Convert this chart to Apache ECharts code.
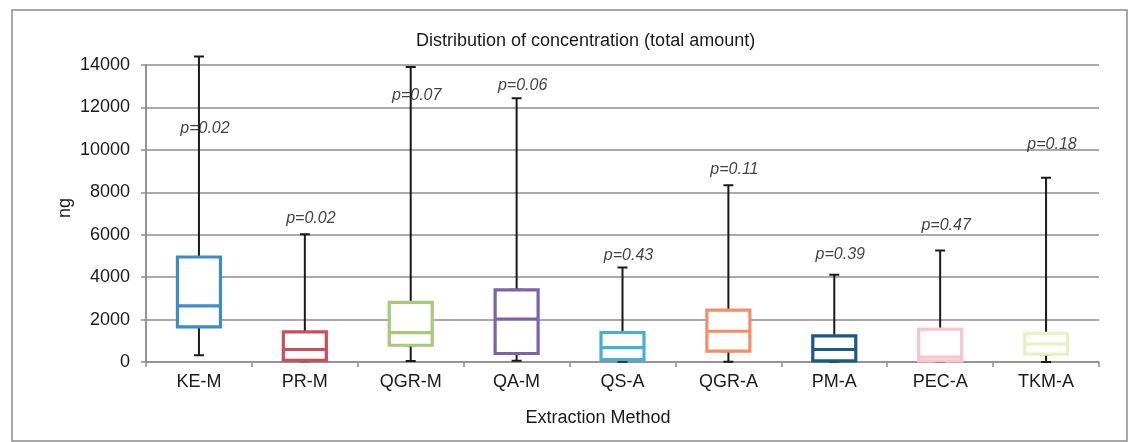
<!DOCTYPE html>
<html><head><meta charset="utf-8">
<script src="https://cdn.jsdelivr.net/npm/echarts@6/dist/echarts.min.js"></script>
<style>html,body{margin:0;padding:0;background:#fff}#c{width:1133px;height:442px}</style>
</head><body><div id="c"></div>
<script>
const categories = ['KE-M','PR-M','QGR-M','QA-M','QS-A','QGR-A','PM-A','PEC-A','TKM-A'];
const minValues    = [320,   30,   50,    60,    10,   10,   10,   10,   0];
const q1Values     = [1660,  80,   790,   400,   110,  510,  50,   50,   370];
const medianValues = [2650,  590,  1380,  2020,  680,  1450, 590,  230,  850];
const q3Values     = [4950,  1420, 2810,  3400,  1390, 2450, 1230, 1550, 1350];
const maxValues    = [14400, 6020, 13900, 12430, 4460, 8330, 4110, 5260, 8690];
const pLabels  = ['p=0.02','p=0.02','p=0.07','p=0.06','p=0.43','p=0.11','p=0.39','p=0.47','p=0.18'];
const pLabelAt = [11000, 6750, 12550, 13050, 5000, 9050, 5050, 6450, 10250];
const yMin = 0, yMax = 14000, yInterval = 2000;
const boxColors = ['#3d8cc8','#c8505a','#a6c97c','#7b65a8','#4aaed2','#f0906a','#1b5a87','#f9c5ca','#eaf2c4'];

const FONT = 'Liberation Sans';
const GRID_COLOR = '#8e8e8e';

const whiskerData = categories.map((c, i) => [minValues[i], q1Values[i], q1Values[i], q3Values[i], maxValues[i]]);
const boxData = categories.map((c, i) => ({
  value: [q1Values[i], q1Values[i], medianValues[i], q3Values[i], q3Values[i]],
  itemStyle: { borderColor: boxColors[i], color: '#ffffff', borderWidth: 3.2 }
}));
const labelData = categories.map((c, i) => ({ value: [c, pLabelAt[i]], label: { formatter: pLabels[i] } }));

const chart = echarts.init(document.getElementById('c'), null, { renderer: 'canvas' });
chart.setOption({
  animation: false,
  backgroundColor: '#ffffff',
  title: {
    text: 'Distribution of concentration (total amount)',
    left: 416, top: 32, padding: 0,
    textStyle: { fontFamily: FONT, fontSize: 18, fontWeight: 'normal', color: '#1a1a1a' }
  },
  grid: { left: 146, right: 34, top: 65, bottom: 80, containLabel: false },
  xAxis: [{
    type: 'category', data: categories, boundaryGap: true,
    axisLine: { show: true, lineStyle: { color: GRID_COLOR, width: 1.5 } },
    axisTick: { show: true, length: 5, lineStyle: { color: GRID_COLOR, width: 1.5 } },
    axisLabel: { margin: 11, fontFamily: FONT, fontSize: 18, color: '#1a1a1a' },
    splitLine: { show: false }
  }, {
    type: 'category', data: categories, boundaryGap: true, show: false
  }],
  yAxis: [{
    type: 'value', min: yMin, max: yMax, interval: yInterval,
    axisLine: { show: true, lineStyle: { color: GRID_COLOR, width: 1.5 } },
    axisTick: { show: true, length: 5, lineStyle: { color: GRID_COLOR, width: 1.5 } },
    axisLabel: { margin: 16, fontFamily: FONT, fontSize: 18, color: '#1a1a1a', formatter: v => String(v) },
    splitLine: { show: true, lineStyle: { color: GRID_COLOR, width: 1.5 } }
  }, {
    type: 'value', min: 0, max: 14470, position: 'left',
    axisLine: { show: true, lineStyle: { color: GRID_COLOR, width: 1.5 } },
    axisTick: { show: false }, axisLabel: { show: false }, splitLine: { show: false }
  }],
  series: [{
    type: 'boxplot', xAxisIndex: 1, yAxisIndex: 0,
    boxWidth: [10, 10],
    itemStyle: { color: '#ffffff', borderColor: '#1a1a1a', borderWidth: 2 },
    data: whiskerData, z: 2
  }, {
    type: 'boxplot', xAxisIndex: 0, yAxisIndex: 0,
    boxWidth: [43, 43],
    data: boxData, z: 3
  }, {
    type: 'scatter', xAxisIndex: 0, yAxisIndex: 0,
    symbolSize: 0, z: 4,
    label: { show: true, position: 'inside', offset: [6, 0], fontFamily: FONT, fontStyle: 'italic', fontSize: 16, color: '#111111' },
    data: labelData
  }],
  graphic: [{
    type: 'rect', shape: { x: 12, y: 10, width: 1115, height: 431 },
    style: { fill: null, stroke: '#8c8c8c', lineWidth: 1.5 }, z: 0
  }, {
    type: 'text', x: 598, y: 418,
    style: { text: 'Extraction Method', fontFamily: FONT, fontSize: 18, fill: '#1a1a1a', textAlign: 'center', textVerticalAlign: 'middle' }
  }, {
    type: 'text', x: 65, y: 208, rotation: Math.PI / 2,
    style: { text: 'ng', fontFamily: FONT, fontSize: 18, fill: '#1a1a1a', textAlign: 'center', textVerticalAlign: 'middle' }
  }]
});
</script></body></html>
